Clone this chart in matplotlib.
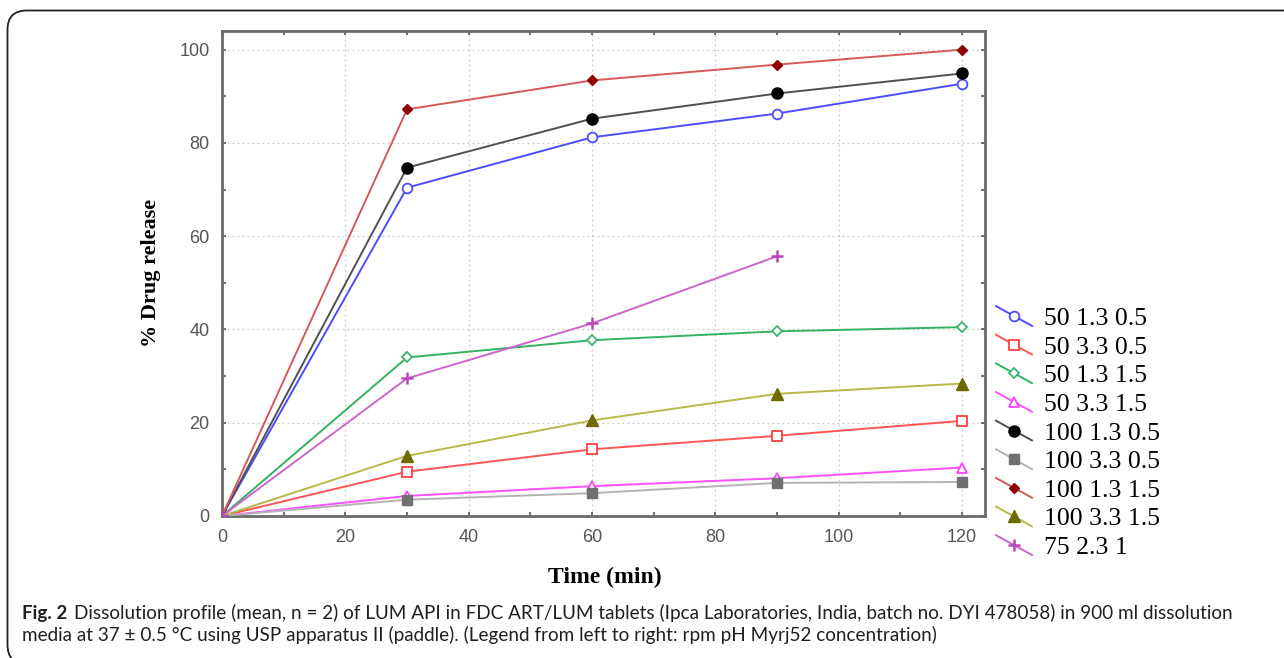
import matplotlib
matplotlib.use("Agg")
import matplotlib.pyplot as plt
from matplotlib.lines import Line2D
from matplotlib.legend_handler import HandlerBase
from matplotlib.patches import FancyBboxPatch
from matplotlib.ticker import MultipleLocator
from matplotlib.text import Annotation

# ---- data ----
time_pts = [0, 30, 60, 90, 120]
labels = ["50 1.3 0.5", "50 3.3 0.5", "50 1.3 1.5", "50 3.3 1.5",
          "100 1.3 0.5", "100 3.3 0.5", "100 1.3 1.5", "100 3.3 1.5", "75 2.3 1"]
s_50_13_05 = [0, 70.4, 81.2, 86.3, 92.7]
s_50_33_05 = [0, 9.5, 14.3, 17.2, 20.4]
s_50_13_15 = [0, 34.0, 37.7, 39.6, 40.5]
s_50_33_15 = [0, 4.3, 6.4, 8.1, 10.4]
s_100_13_05 = [0, 74.7, 85.2, 90.6, 94.9]
s_100_33_05 = [0, 3.5, 4.9, 7.1, 7.3]
s_100_13_15 = [0, 87.2, 93.4, 96.8, 100.0]
s_100_33_15 = [0, 12.9, 20.5, 26.2, 28.4]
s_75_23_1 = [0, 29.5, 41.3, 55.7]

W, H = 1284, 658
fig = plt.figure(figsize=(W / 100, H / 100), dpi=100)

def px(x, y):
    return x / W, 1 - y / H

# border (rounded, open on right)
border = FancyBboxPatch(px(7.5, 664), 1400 / W, (664 - 10.5) / H,
                        boxstyle="round,pad=0,rounding_size=0.015",
                        transform=fig.transFigure, fill=False,
                        edgecolor="#231f20", linewidth=1.3, mutation_aspect=W / H)
fig.add_artist(border)

ax_l, ax_r, ax_t, ax_b = 222, 985, 31, 516
ax = fig.add_axes([ax_l / W, 1 - ax_b / H, (ax_r - ax_l) / W, (ax_b - ax_t) / H])

styles = [
    dict(color="#4d4dff", marker="o", mfc="white", mec="#4d4dff", ms=7, mew=1.3),
    dict(color="#ff5555", marker="s", mfc="white", mec="#ff4040", ms=7, mew=1.3),
    dict(color="#33b266", marker="D", mfc="white", mec="#33b266", ms=5, mew=1.2),
    dict(color="#ff50ff", marker="^", mfc="white", mec="#ff40ff", ms=7, mew=1.3),
    dict(color="#505050", marker="o", mfc="black", mec="black", ms=8, mew=1),
    dict(color="#b4b4b4", marker="s", mfc="#707070", mec="#707070", ms=7, mew=1),
    dict(color="#d45a5a", marker="D", mfc="#900000", mec="#900000", ms=5, mew=1),
    dict(color="#b8b84a", marker="^", mfc="#6b6b00", mec="#6b6b00", ms=8, mew=1),
    dict(color="#cc66cc", marker="+", mfc="#bb44bb", mec="#bb44bb", ms=8, mew=1.8),
]
series = [s_50_13_05, s_50_33_05, s_50_13_15, s_50_33_15, s_100_13_05,
          s_100_33_05, s_100_13_15, s_100_33_15, s_75_23_1]

for lab, ys, st in zip(labels, series, styles):
    xs = time_pts[:len(ys)]
    ax.plot(xs, ys, label=lab, lw=1.4, zorder=3, **st)

ax.set_xlim(0, 123.7)
ax.set_ylim(0, 104)
ax.xaxis.set_major_locator(MultipleLocator(20))
ax.yaxis.set_major_locator(MultipleLocator(20))
ax.xaxis.set_minor_locator(MultipleLocator(10))
ax.yaxis.set_minor_locator(MultipleLocator(10))
ax.tick_params(which="both", direction="in", top=True, right=True,
               color="#555555", length=3, width=1.2)
ax.tick_params(which="major", labelsize=13, labelcolor="#555555", pad=9)
for lbl in ax.get_xticklabels() + ax.get_yticklabels():
    lbl.set_family("Liberation Sans")
ax.grid(True, which="major", linestyle=(0, (1.5, 2.5)), color="#cccccc", lw=0.9)
for sp in ax.spines.values():
    sp.set_color("#6a6a6a")
    sp.set_linewidth(2)

fig.text(605 / W, 1 - 577 / H, "Time (min)", ha="center", va="center",
         fontsize=17, fontweight="bold", family="Liberation Serif")
fig.text(151 / W, 1 - 273 / H, "% Drug release", ha="center", va="center",
         rotation=90, fontsize=16, fontweight="bold", family="Liberation Serif")


class DiagHandler(HandlerBase):
    def create_artists(self, legend, orig, xdescent, ydescent, width, height,
                       fontsize, trans):
        x0 = -xdescent
        x1 = -xdescent + width
        yc = -ydescent + height / 2
        dy = height * 0.55
        line = Line2D([x0, x1], [yc + dy, yc - dy], color=orig.get_color(),
                      lw=orig.get_linewidth())
        mk = Line2D([(x0 + x1) / 2], [yc], marker=orig.get_marker(),
                    markersize=orig.get_markersize(),
                    markerfacecolor=orig.get_markerfacecolor(),
                    markeredgecolor=orig.get_markeredgecolor(),
                    markeredgewidth=orig.get_markeredgewidth(), linestyle="none")
        line.set_transform(trans)
        mk.set_transform(trans)
        return [line, mk]


handles, labs = ax.get_legend_handles_labels()
leg = fig.legend(handles, labs, loc="upper left",
                 bbox_to_anchor=px(996, 307), frameon=False,
                 prop=dict(family="Liberation Serif", size=18.5),
                 handler_map={Line2D: DiagHandler()},
                 handlelength=1.4, handletextpad=0.45, labelspacing=0.22,
                 borderpad=0, borderaxespad=0)

cap_font = "Lato"
cap_color = "#231f20"
cap_size = 13.6
t1 = fig.text(22 / W, 1 - 619 / H, "Fig. 2", fontsize=cap_size, fontweight="bold",
              family=cap_font, color=cap_color, va="baseline")
a = Annotation("Dissolution profile (mean, n = 2) of LUM API in FDC ART/LUM tablets "
               "(Ipca Laboratories, India, batch no. DYI 478058) in 900 ml dissolution",
               xy=(1, 0), xycoords=t1, xytext=(7, 0), textcoords="offset pixels",
               fontsize=cap_size, family=cap_font, color=cap_color, va="bottom")
fig.add_artist(a)
fig.text(22 / W, 1 - 641 / H,
         "media at 37 ± 0.5 °C using USP apparatus II (paddle). (Legend from left to right: rpm pH Myrj52 concentration)",
         fontsize=cap_size, family=cap_font, color=cap_color, va="baseline")

fig.savefig("out.png", dpi=100)
